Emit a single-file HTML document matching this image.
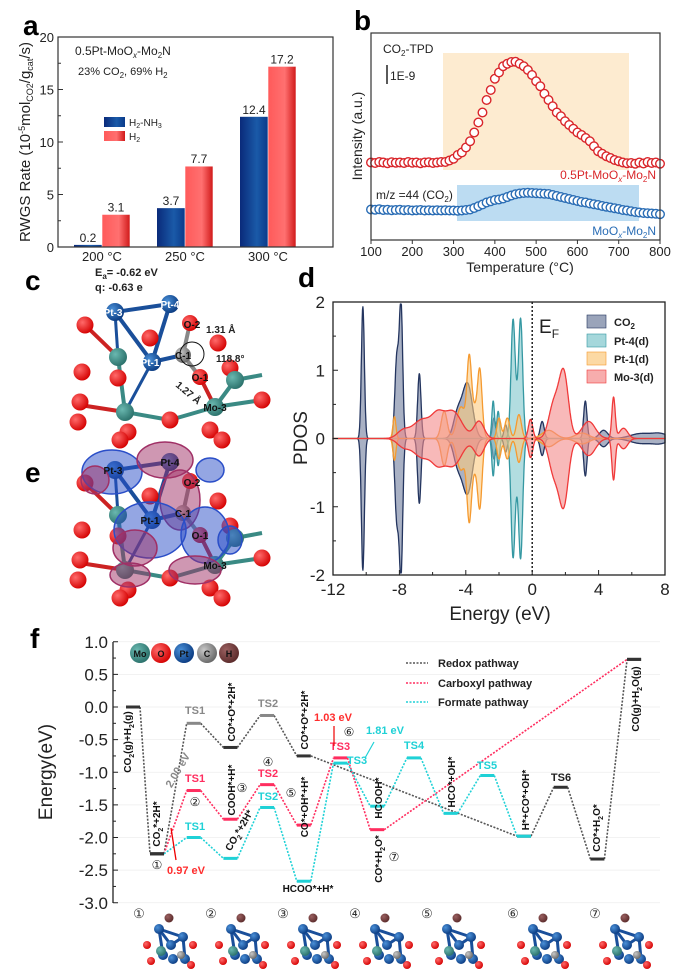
<!DOCTYPE html>
<html><head><meta charset="utf-8"><style>
html,body{margin:0;padding:0;background:#fff}
svg{display:block;font-family:"Liberation Sans",Arial,sans-serif}
</style></head><body>
<svg id="fig" width="696" height="971" viewBox="0 0 696 971" xmlns="http://www.w3.org/2000/svg">
<defs>
<linearGradient id="gb" x1="0" x2="1"><stop offset="0" stop-color="#0a2a7a"/><stop offset=".6" stop-color="#1a5aa8"/><stop offset="1" stop-color="#0a3a8a"/></linearGradient>
<linearGradient id="gr" x1="0" x2="1"><stop offset="0" stop-color="#ff5a5a"/><stop offset=".6" stop-color="#ff7070"/><stop offset="1" stop-color="#d01818"/></linearGradient>
<radialGradient id="aO" cx=".35" cy=".35" r=".7"><stop offset="0" stop-color="#ff6a6a"/><stop offset="1" stop-color="#d40000"/></radialGradient>
<radialGradient id="aPt" cx=".35" cy=".35" r=".7"><stop offset="0" stop-color="#4a90d8"/><stop offset="1" stop-color="#0a3a80"/></radialGradient>
<radialGradient id="aMo" cx=".35" cy=".35" r=".7"><stop offset="0" stop-color="#6ab8b0"/><stop offset="1" stop-color="#2a706a"/></radialGradient>
<radialGradient id="aC" cx=".35" cy=".35" r=".7"><stop offset="0" stop-color="#c8c8c8"/><stop offset="1" stop-color="#666"/></radialGradient>
<radialGradient id="aH" cx=".35" cy=".35" r=".7"><stop offset="0" stop-color="#9a6060"/><stop offset="1" stop-color="#5a2a2a"/></radialGradient>
</defs>
<g id="pa"></g>
<g id="pb"></g>
<g id="pc"></g>
<g id="pd"></g>
<g id="pf"></g>
</svg>
<script>
// ---------- Panel a data ----------
const aCategories = ["200 °C","250 °C","300 °C"];
const aNH3 = [0.2, 3.7, 12.4];
const aH2 = [3.1, 7.7, 17.2];
const aTicks = [0,5,10,15,20];
// ---------- Panel b data ----------
const bTemps = [];
for (let t = 100; t <= 800; t += 10) bTemps.push(t);
const bRed = [3.1,3.08,3.12,3.1,3.07,3.11,3.09,3.1,3.08,3.12,3.09,3.1,3.07,3.1,3.11,3.08,3.1,3.12,
 3.12,3.18,3.25,3.4,3.5,3.7,3.95,4.3,4.7,5.1,5.6,6.0,6.45,6.7,6.95,7.05,7.12,7.13,7.05,6.95,6.8,6.6,
 6.35,6.15,5.85,5.6,5.35,5.1,4.95,4.75,4.6,4.45,4.3,4.2,4.08,3.95,3.75,3.55,3.45,3.35,3.28,3.2,3.15,
 3.1,3.07,3.08,3.05,3.1,3.06,3.12,3.08,3.1,3.05];
const bBlue = [1.22,1.21,1.23,1.2,1.21,1.19,1.2,1.21,1.19,1.2,1.18,1.19,1.2,1.18,1.19,1.18,1.19,1.18,1.19,1.18,1.18,1.17,1.18,
 1.2,1.22,1.28,1.35,1.42,1.5,1.55,1.6,1.62,1.66,1.72,1.78,1.83,1.86,1.88,1.89,1.88,1.87,1.86,1.85,1.84,1.8,1.76,1.72,1.68,1.64,1.6,
 1.56,1.52,1.5,1.46,1.43,1.4,1.36,1.33,1.3,1.27,1.24,1.2,1.18,1.15,1.12,1.1,1.08,1.07,1.06,1.05,1.03];
const bTicks = [100,200,300,400,500,600,700,800];
// ---------- Panel d data (peaks: center, height, width) ----------
const dCO2 = [[-10.2,1.93,0.09],[-7.9,1.9,0.1],[-8.15,1.2,0.12],[-6.8,0.95,0.1],[-3.9,0.8,0.3],[-4.5,0.35,0.25],[-2.3,0.3,0.1],[-1.6,0.2,0.1],[0.6,0.25,0.12],[3.2,0.55,0.1],[4.3,0.12,0.25],[6.5,0.07,0.6],[7.7,0.07,0.5]];
const dPt4 = [[-1.16,1.55,0.12],[-0.69,1.55,0.12],[-0.92,0.4,0.2],[-2.35,0.55,0.08],[-2.05,0.4,0.08]];
const dPt1 = [[-3.8,0.9,0.13],[-3.15,0.8,0.13],[-4.3,0.45,0.25],[-3.5,0.45,0.3],[-8.3,0.32,0.09],[-5.3,0.4,0.18],[-2.0,0.3,0.12],[-0.8,0.35,0.15],[-1.5,0.3,0.15],[1.0,0.12,0.4],[3.0,0.08,0.4]];
const dMo3 = [[-6.6,0.28,0.6],[-4.8,0.4,0.55],[-5.7,0.22,0.35],[-3.2,0.25,0.3],[-0.1,0.28,0.13],[1.9,0.95,0.28],[1.3,0.5,0.3],[3.4,0.25,0.4],[4.9,0.6,0.1],[5.5,0.15,0.25],[-7.8,0.1,0.35]];
const dXTicks = [-12,-8,-4,0,4,8];
const dYTicks = [2,1,0,-1,-2];
// ---------- Panel f data ----------
const fRedoxSlots = [0,1,2,3,4,5,11,12,13,14];
const fRedoxE = [0,-2.25,-0.25,-0.62,-0.13,-0.75,-1.98,-1.23,-2.33,0.73];
const fCarbSlots = [1,2,3,4,5,6,7,14];
const fCarbE = [-2.25,-1.28,-1.72,-1.19,-1.81,-0.78,-1.88,0.73];
const fFormSlots = [1,2,3,4,5,6,7,8,9,10,11];
const fFormE = [-2.25,-2.0,-2.32,-1.54,-2.67,-0.86,-1.52,-0.78,-1.63,-1.05,-1.98];
const fTicks = [1.0,0.5,0.0,-0.5,-1.0,-1.5,-2.0,-2.5,-3.0];

const NS="http://www.w3.org/2000/svg";
function mk(parent, tag, attrs, text){
  const e=document.createElementNS(NS,tag);
  for(const k in attrs) e.setAttribute(k,attrs[k]);
  if(text!==undefined) e.textContent=text;
  parent.appendChild(e); return e;
}
function txt(parent,x,y,s,size,opts){
  opts=opts||{};
  const a={x:x,y:y,'font-size':size,fill:opts.fill||'#222'};
  if(opts.anchor)a['text-anchor']=opts.anchor;
  if(opts.weight)a['font-weight']=opts.weight;
  if(opts.rot!==undefined)a.transform='rotate('+opts.rot+' '+x+' '+y+')';
  const t=mk(parent,'text',a);
  t.innerHTML=s;
  return t;
}

// ================= PANEL A =================
(function(){
  const g=document.getElementById('pa');
  const L=58,R=333,T=37,B=247;
  const y=v=>B-(v/20)*(B-T);
  const cx=[102,185,268], bw=28;
  const lbl=txt(g,23,35,'a',28,{weight:'bold',fill:'#000'});
  
  
  for(let i=0;i<aCategories.length;i++){
    const c=cx[i];
    const b1=mk(g,'rect',{x:c-bw,y:y(aNH3[i]),width:bw,height:B-y(aNH3[i]),fill:'url(#gb)'});
    
    
    const b2=mk(g,'rect',{x:c,y:y(aH2[i]),width:bw,height:B-y(aH2[i]),fill:'url(#gr)',stroke:'#fff','stroke-width':0.6});
    
    
    const v1=txt(g,c-bw/2,y(aNH3[i])-3,String(aNH3[i]),12,{anchor:'middle'});
    
    
    const v2=txt(g,c+bw/2,y(aH2[i])-3,String(aH2[i]),12,{anchor:'middle'});
    
    
    const xl=txt(g,c,261,aCategories[i],13,{anchor:'middle'});
    
    
  }
  mk(g,'rect',{x:L,y:T,width:R-L,height:B-T,fill:'none',stroke:'#333','stroke-width':1.2});
  for(const t of aTicks){
    mk(g,'line',{x1:L,x2:L+5,y1:y(t),y2:y(t),stroke:'#333'});
    const tl=txt(g,L-4,y(t)+5,String(t),13,{anchor:'end'});
    
    
  }
  for(let t=2.5;t<20;t+=5) mk(g,'line',{x1:L,x2:L+3,y1:y(t),y2:y(t),stroke:'#333'});
  const yt=txt(g,30,142,'RWGS Rate (10<tspan dy="-5" font-size="9">-5</tspan><tspan dy="5">mol</tspan><tspan dy="3" font-size="9">CO2</tspan><tspan dy="-3">/g</tspan><tspan dy="3" font-size="9">cat</tspan><tspan dy="-3">/s)</tspan>',15,{anchor:'middle',rot:-90});
  
  
  txt(g,75,55,'0.5Pt-MoO<tspan dy="3" font-size="8" font-style="italic">x</tspan><tspan dy="-3">-Mo</tspan><tspan dy="3" font-size="8">2</tspan><tspan dy="-3">N</tspan>',12);
  txt(g,78,75,'23% CO<tspan dy="3" font-size="8">2</tspan><tspan dy="-3">, 69% H</tspan><tspan dy="3" font-size="8">2</tspan>',11);
  const lg=mk(g,'g',{});
  
  
  mk(lg,'rect',{x:104,y:117,width:21,height:10,fill:'url(#gb)'});
  mk(lg,'rect',{x:104,y:131,width:21,height:10,fill:'url(#gr)'});
  txt(lg,129,126,'H<tspan dy="2" font-size="7">2</tspan><tspan dy="-2">-NH</tspan><tspan dy="2" font-size="7">3</tspan>',10);
  txt(lg,129,140,'H<tspan dy="2" font-size="7">2</tspan>',10);
})();

// ================= PANEL B =================
(function(){
  const g=document.getElementById('pb');
  const L=371,R=660,T=33,B=240;
  const x=t=>L+(t-100)/700*(R-L);
  const y=v=>B-v*25;
  const lbl=txt(g,354,30,'b',28,{weight:'bold',fill:'#000'});
  
  
  const r1=mk(g,'rect',{x:443,y:53,width:186,height:117,fill:'#fdebd0'});
  
  
  const r2=mk(g,'rect',{x:457,y:185,width:182,height:36,fill:'#bcdcf2'});
  
  
  for(let i=0;i<bTemps.length;i++){
    const p=mk(g,'circle',{cx:x(bTemps[i]),cy:y(bRed[i]),r:4.3,fill:'#fff',stroke:'#d9252a','stroke-width':1.4});
    
    
    const q=mk(g,'circle',{cx:x(bTemps[i]),cy:y(bBlue[i]),r:4.3,fill:'#fff',stroke:'#2a6db5','stroke-width':1.4});
    
    
  }
  mk(g,'rect',{x:L,y:T,width:R-L,height:B-T,fill:'none',stroke:'#333','stroke-width':1.2});
  for(const t of bTicks){
    mk(g,'line',{x1:x(t),x2:x(t),y1:B,y2:B+4,stroke:'#333'});
    const tl=txt(g,x(t),256,String(t),13,{anchor:'middle'});
    
    
  }
  const xt=txt(g,520,272,'Temperature (°C)',14,{anchor:'middle'});
  
  
  const yt=txt(g,362,136,'Intensity (a.u.)',14,{anchor:'middle',rot:-90});
  
  
  txt(g,383,53,'CO<tspan dy="3" font-size="8">2</tspan><tspan dy="-3">-TPD</tspan>',12);
  mk(g,'line',{x1:387,x2:387,y1:65,y2:84,stroke:'#222','stroke-width':1.5});
  txt(g,390,80,'1E-9',12);
  txt(g,656,179,'0.5Pt-MoO<tspan dy="3" font-size="8" font-style="italic">x</tspan><tspan dy="-3">-Mo</tspan><tspan dy="3" font-size="8">2</tspan><tspan dy="-3">N</tspan>',12,{anchor:'end',fill:'#d9252a'});
  txt(g,376,199,'m/z =44 (CO<tspan dy="3" font-size="8">2</tspan><tspan dy="-3">)</tspan>',12);
  txt(g,656,235,'MoO<tspan dy="3" font-size="8" font-style="italic">x</tspan><tspan dy="-3">-Mo</tspan><tspan dy="3" font-size="8">2</tspan><tspan dy="-3">N</tspan>',12,{anchor:'end',fill:'#2a6db5'});
})();

// ================= PANEL C / E (structures) =================
(function(){
  const g=document.getElementById('pc');
  const atom=(x,y,r,t)=>{const c=mk(g,'circle',{cx:x,cy:y,r:r,fill:'url(#a'+t+')'});return c;};
  const bond=(x1,y1,x2,y2,c,w)=>mk(g,'line',{x1:x1,y1:y1,x2:x2,y2:y2,stroke:c,'stroke-width':w||4});
  const lc=txt(g,25,290,'c',28,{weight:'bold',fill:'#000'});
  
  
  txt(g,95,276,'E<tspan dy="3" font-size="8">a</tspan><tspan dy="-3">= -0.62 eV</tspan>',11,{weight:'bold'});
  txt(g,95,291,'q: -0.63 e',11,{weight:'bold'});
  function structure(dy){
    bond(115,312+dy,170,304+dy,'#1a4f9a',4);bond(115,312+dy,152,362+dy,'#1a4f9a',4);
    bond(170,304+dy,152,362+dy,'#1a4f9a',4);bond(152,362+dy,183,355+dy,'#1a4f9a',4);
    bond(115,312+dy,118,357+dy,'#1a4f9a',3);bond(152,362+dy,125,412+dy,'#1a4f9a',3);
    bond(183,355+dy,190,323+dy,'#888',4);bond(183,355+dy,200,377+dy,'#888',4);
    bond(118,357+dy,125,412+dy,'#3a8a84',4);bond(125,412+dy,170,420+dy,'#3a8a84',4);
    bond(170,420+dy,215,407+dy,'#3a8a84',4);bond(215,407+dy,262,400+dy,'#3a8a84',4);
    bond(215,407+dy,235,380+dy,'#3a8a84',4);bond(200,377+dy,215,407+dy,'#cc2222',4);
    bond(80,405+dy,125,412+dy,'#cc2222',4);bond(85,325+dy,118,357+dy,'#cc2222',4);
    bond(235,380+dy,262,375+dy,'#3a8a84',4);
    [[85,325],[82,372],[80,402],[78,422],[118,378],[128,432],[120,440],[170,420],[210,430],[222,440],[262,400],[218,343],[150,338],[230,368]].forEach(p=>atom(p[0],p[1]+dy,8.5,'O'));
    [[118,357],[125,412],[215,407],[235,380]].forEach(p=>atom(p[0],p[1]+dy,9,'Mo'));
    atom(115,312+dy,9,'Pt');atom(170,304+dy,9,'Pt');atom(152,362+dy,9,'Pt');
    atom(190,323+dy,8,'O');atom(200,377+dy,8,'O');
    atom(183,355+dy,8,'C');
  }
  structure(0);
  const tl=[['Pt-3',113,316],['Pt-4',170,308],['Pt-1',150,366],['O-2',192,328],['C-1',183,359],['O-1',200,381],['Mo-3',215,411]];
  tl.forEach(t=>txt(g,t[1],t[2],t[0],10,{anchor:'middle',weight:'bold',fill:t[0].startsWith('Pt')?'#fff':'#111'}));
  txt(g,206,333,'1.31 Å',10,{weight:'bold'});
  txt(g,216,362,'118.8°',10,{weight:'bold'});
  txt(g,175,386,'1.27 Å',10,{weight:'bold',rot:40});
  mk(g,'circle',{cx:192,cy:354,r:12,fill:'none',stroke:'#111','stroke-width':1});
  const le=txt(g,25,482,'e',28,{weight:'bold',fill:'#000'});
  
  
  const dy=158;
  structure(dy);
  [[112,472,30,22,'#2a4ec8'],[95,480,14,14,'#a03066'],[165,460,28,18,'#a03066'],[210,470,14,12,'#2a4ec8'],[180,500,20,30,'#a03066'],[150,530,36,28,'#2a4ec8'],[135,548,22,18,'#a03066'],[205,535,24,28,'#2a4ec8'],[195,570,26,14,'#a03066'],[130,575,20,12,'#a03066'],[230,540,12,14,'#2a4ec8']].forEach(b=>{
    const e=mk(g,'ellipse',{cx:b[0],cy:b[1],rx:b[2],ry:b[3],fill:b[4],'fill-opacity':0.5,stroke:b[4],'stroke-width':1.5});
    
    
  });
  [['Pt-3',113,474],['Pt-4',170,466],['Pt-1',150,524],['O-2',192,486],['C-1',183,517],['O-1',200,539],['Mo-3',215,569]].forEach(t=>txt(g,t[1],t[2],t[0],10,{anchor:'middle',weight:'bold',fill:'#111'}));
})();

// ================= PANEL D =================
(function(){
  const g=document.getElementById('pd');
  const L=333,R=665,T=302,B=575;
  const x=e=>L+(e+12)/20*(R-L);
  const y=v=>438.5-v*68.25;
  const ld=txt(g,298,287,'d',28,{weight:'bold',fill:'#000'});
  
  
  function f(peaks,e){let s=0;for(const p of peaks)s+=p[1]*Math.exp(-((e-p[0])**2)/(2*p[2]*p[2]));return s;}
  function draw(peaks,fill,stroke,name){
    let up=[],dn=[];
    for(let e=-12;e<=8.0001;e+=0.02){const v=Math.min(f(peaks,e),1.97);up.push(x(e).toFixed(1)+','+y(v).toFixed(1));dn.push(x(e).toFixed(1)+','+y(-v).toFixed(1));}
    const p=mk(g,'polygon',{points:up.concat(dn.reverse()).join(' '),fill:fill,'fill-opacity':0.6,stroke:stroke,'stroke-width':1.3,'stroke-linejoin':'round'});
    
    
  }
  draw(dCO2,'#6f7d9c','#24355f','pdos-co2');
  draw(dPt4,'#7fc6cc','#3598a2','pdos-pt4');
  draw(dPt1,'#fbc97e','#f59a30','pdos-pt1');
  draw(dMo3,'#f48a8a','#f03a3a','pdos-mo3');
  mk(g,'line',{x1:x(0),x2:x(0),y1:T,y2:B,stroke:'#111','stroke-width':1.4,'stroke-dasharray':'2,2'});
  mk(g,'rect',{x:L,y:T,width:R-L,height:B-T,fill:'none',stroke:'#222','stroke-width':1.3});
  for(const t of dXTicks){
    mk(g,'line',{x1:x(t),x2:x(t),y1:B,y2:B-5,stroke:'#222'});
    const tl=txt(g,x(t),595,String(t),17,{anchor:'middle'});
    
    
  }
  for(let t=-10;t<8;t+=4) mk(g,'line',{x1:x(t),x2:x(t),y1:B,y2:B-3,stroke:'#222'});
  for(const t of dYTicks){
    mk(g,'line',{x1:L,x2:L+5,y1:y(t),y2:y(t),stroke:'#222'});
    const tl=txt(g,L-8,y(t)+6,String(t),17,{anchor:'end'});
    
    
  }
  for(let t=-1.5;t<2;t+=1) mk(g,'line',{x1:L,x2:L+3,y1:y(t),y2:y(t),stroke:'#222'});
  const xt=txt(g,500,620,'Energy (eV)',19,{anchor:'middle'});
  
  
  const yt=txt(g,307,438,'PDOS',19,{anchor:'middle',rot:-90});
  
  
  txt(g,539,333,'E<tspan dy="5" font-size="12">F</tspan>',19);
  const leg=[['CO<tspan dy="3" font-size="8">2</tspan>','#6f7d9c','#24355f',322],['Pt-4(d)','#7fc6cc','#3598a2',341],['Pt-1(d)','#fbc97e','#f59a30',359],['Mo-3(d)','#f48a8a','#f03a3a',377]];
  const lg=mk(g,'g',{});
  
  
  leg.forEach(l=>{mk(lg,'rect',{x:587,y:l[3]-7,width:19,height:13,fill:l[1],'fill-opacity':0.7,stroke:l[2],'stroke-width':0.6});txt(lg,614,l[3]+4,l[0],11,{weight:'bold'});});
})();

// ================= PANEL F =================
(function(){
  const g=document.getElementById('pf');
  const L=113,R=660,T=642,B=903;
  const y=E=>707-65.25*E;
  const sx=s=>s===0?133:157+(s-1)*36.7;
  const lf=txt(g,30,648,'f',28,{weight:'bold',fill:'#000'});
  
  
  for(const t of fTicks){
    mk(g,'line',{x1:L,x2:R,y1:y(t),y2:y(t),stroke:'#eee','stroke-width':0.8});
    mk(g,'line',{x1:L,x2:L+5,y1:y(t),y2:y(t),stroke:'#222'});
    const tl=txt(g,L-5,y(t)+6,t.toFixed(1),17,{anchor:'end'});
    
    
  }
  for(let t=0.75;t>-3;t-=0.5) mk(g,'line',{x1:L,x2:L+3,y1:y(t),y2:y(t),stroke:'#222'});
  mk(g,'line',{x1:L,x2:L,y1:T,y2:B,stroke:'#222','stroke-width':1.3});
  const yt=txt(g,52,772,'Energy(eV)',19,{anchor:'middle',rot:-90});
  
  
  function path(slots,E,color,name,lvlColor){
    const w=7;
    for(let i=0;i<slots.length-1;i++){
      const l=mk(g,'line',{x1:sx(slots[i])+w,y1:y(E[i]),x2:sx(slots[i+1])-w,y2:y(E[i+1]),stroke:color,'stroke-width':1.6,'stroke-dasharray':'2,1.5'});
      
      
    }
    for(let i=0;i<slots.length;i++){
      const l=mk(g,'line',{x1:sx(slots[i])-w,y1:y(E[i]),x2:sx(slots[i])+w,y2:y(E[i]),stroke:lvlColor(i),'stroke-width':3});
      
      
    }
  }
  path(fRedoxSlots,fRedoxE,'#555','redox',i=>(i===2||i===4)?'#888':'#333');
  path(fCarbSlots,fCarbE,'#ff2d5f','carboxyl',i=>(i===0||i===7)?'#333':'#ff2d5f');
  path(fFormSlots,fFormE,'#1fd1d6','formate',i=>i===0?'#333':'#1fd1d6');
  const lg=mk(g,'g',{});
  
  
  [['Redox pathway','#555',663],['Carboxyl pathway','#ff2d5f',683],['Formate pathway','#1fd1d6',702]].forEach(l=>{
    mk(lg,'line',{x1:406,x2:428,y1:l[2],y2:l[2],stroke:l[1],'stroke-width':1.6,'stroke-dasharray':'2,1.5'});
    txt(lg,438,l[2]+4,l[0],11,{weight:'bold'});
  });
  [['Mo','aMo',140],['O','aO',161],['Pt','aPt',184],['C','aC',207],['H','aH',229]].forEach(a=>{
    mk(g,'circle',{cx:a[2],cy:653,r:10,fill:'url(#'+a[1]+')'});
    txt(g,a[2],657,a[0],9,{anchor:'middle',weight:'bold',fill:'#111'});
  });
  const rot=[['CO<tspan dy="3" font-size="7">2</tspan><tspan dy="-3">(g)+H</tspan><tspan dy="3" font-size="7">2</tspan><tspan dy="-3">(g)</tspan>',131,742],
   ['CO<tspan dy="3" font-size="7">2</tspan><tspan dy="-3">*+2H*</tspan>',160,824],
   ['CO*+O*+2H*',235,712],['COOH*+H*',235,790],['CO*+O*+2H*',308,720],['CO*+OH*+H*',308,807],
   ['HCOOH*',382,798],['CO*+H<tspan dy="3" font-size="7">2</tspan><tspan dy="-3">O*</tspan>',382,859],
   ['HCO*+OH*',455,782],['H*+CO*+OH*',529,800],['CO*+H<tspan dy="3" font-size="7">2</tspan><tspan dy="-3">O*</tspan>',600,828],
   ['CO(g)+H<tspan dy="3" font-size="7">2</tspan><tspan dy="-3">O(g)</tspan>',639,699]];
  rot.forEach(r=>{txt(g,r[1],r[2],r[0],10,{anchor:'middle',weight:'bold',rot:-90,fill:'#111'});});
  txt(g,242,832,'CO<tspan dy="3" font-size="7">2</tspan><tspan dy="-3">*+2H*</tspan>',10,{anchor:'middle',weight:'bold',rot:-60,fill:'#111'});
  txt(g,308,892,'HCOO*+H*',10,{anchor:'middle',weight:'bold',fill:'#111'});
  [['TS1',195,714,'#888'],['TS2',268,707,'#888'],['TS1',195,782,'#ff2d5f'],['TS2',268,777,'#ff2d5f'],['TS3',340,750,'#ff2d5f'],
   ['TS1',195,830,'#1fd1d6'],['TS2',268,800,'#1fd1d6'],['TS3',357,764,'#1fd1d6'],['TS4',414,749,'#1fd1d6'],['TS5',487,769,'#1fd1d6'],['TS6',561,781,'#222']].forEach(t=>{
    const e=txt(g,t[1],t[2],t[0],11,{anchor:'middle',weight:'bold',fill:t[3]});
    
    
  });
  txt(g,333,721,'1.03 eV',11,{anchor:'middle',weight:'bold',fill:'#ff2d2d'});
  mk(g,'line',{x1:334,x2:334,y1:746,y2:726,stroke:'#e00','stroke-width':1.2});
  txt(g,385,734,'1.81 eV',11,{anchor:'middle',weight:'bold',fill:'#1fd1d6'});
  mk(g,'line',{x1:365,x2:374,y1:758,y2:742,stroke:'#1fd1d6','stroke-width':1.2});
  txt(g,186,874,'0.97 eV',11,{anchor:'middle',weight:'bold',fill:'#ff2d2d'});
  mk(g,'line',{x1:171,x2:176,y1:828,y2:860,stroke:'#e00','stroke-width':1.3});
  txt(g,181,772,'2.00 eV',11,{anchor:'middle',weight:'bold',fill:'#888',rot:-60});
  [['①',157,869],['②',195,806],['③',242,792],['④',268,766],['⑤',291,797],['⑥',349,736],['⑦',394,861]].forEach(c=>txt(g,c[1],c[2],c[0],12,{anchor:'middle'}));
  const cx=[139,211,283,355,427,513,595];
  cx.forEach((x,i)=>{
    txt(g,x,918,'①②③④⑤⑥⑦'[i],13,{anchor:'middle',fill:'#333'});
    const s=mk(g,'g',{});
    
    
    const ox=x+20;
    [[0,14,12,30],[12,30,24,22],[0,14,24,22],[0,14,4,40],[24,22,26,44]].forEach(b=>mk(s,'line',{x1:ox+b[0],y1:915+b[1],x2:ox+b[2],y2:915+b[3],stroke:'#1a4f9a','stroke-width':3}));
    [[0,14],[12,30],[24,22],[4,40],[26,44],[14,44]].forEach(p=>mk(s,'circle',{cx:ox+p[0],cy:915+p[1],r:5,fill:'url(#aPt)'}));
    [[-12,30],[-8,46],[34,30],[32,50]].forEach(p=>mk(s,'circle',{cx:ox+p[0],cy:915+p[1],r:4,fill:'url(#aO)'}));
    mk(s,'circle',{cx:ox+10,cy:915+3,r:4.5,fill:'url(#aH)'});
    mk(s,'circle',{cx:ox+22,cy:915+40,r:4,fill:'url(#aC)'});
    mk(s,'circle',{cx:ox+2,cy:915+36,r:5,fill:'url(#aMo)'});
  });
})();
</script>
</body></html>
